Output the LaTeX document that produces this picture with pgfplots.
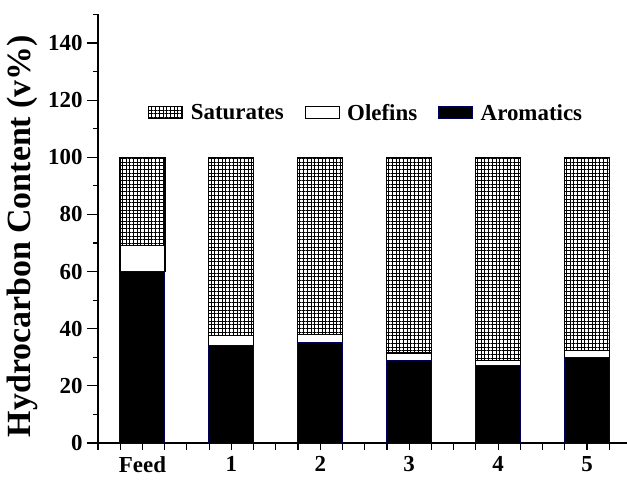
\documentclass[border=0pt]{standalone}
\usepackage{fontspec}
\setmainfont{Liberation Serif}
\usepackage{pgfplots}
\pgfplotsset{compat=1.18}
\usetikzlibrary{patterns.meta}

% Hydrocarbon group composition (vol%) of the feed and products 1-5
\pgfplotstableread{
x  arom  olef  sat
0  60    9     31
1  34    3.5   62.5
2  35    3     62
3  29    2.5   68.5
4  27    2     71
5  30    2.5   67.5
}\comptable

\pgfplotsset{
  frame/.style={
    at={(0,0)}, anchor=south west,
    scale only axis, width=529bp, height=428.6bp,
    xmin=-0.5, xmax=5.45, ymin=0, ymax=150,
  },
}

\begin{document}
\begin{tikzpicture}
% main axis: stacked bars, y ticks and labels
\begin{axis}[
  frame,
  axis lines=left,
  axis line style={-, line width=1.2pt},
  ybar stacked, bar width=45bp,
  xtick={0,1,2,3,4,5},
  xticklabels={Feed,1,2,3,4,5},
  xtick style={draw=none},
  ytick={0,20,...,140},
  minor ytick={10,30,...,150},
  tick align=outside,
  major tick length=11bp, minor tick length=4.5bp,
  every tick/.style={black, line width=1.1pt},
  tick label style={font=\bfseries\fontsize{23}{23}\selectfont},
  xticklabel style={yshift=1bp},
  yticklabel style={xshift=-1bp},
  /pgf/number format/assume math mode=true,
  ylabel={Hydrocarbon Content (v\%)},
  every axis y label/.style={at={(axis description cs:-0.142,0.483)}, rotate=90, anchor=center,
    font=\bfseries\fontsize{34}{34}\selectfont},
  reverse legend,
  legend columns=3,
  legend style={at={(axis description cs:0.507,0.77)}, anchor=center, draw=none, fill=none,
    font=\bfseries\fontsize{23}{23}\selectfont,
    /tikz/every even column/.append style={column sep=19bp}},
  legend image code/.code={%
    \draw[#1, line width=1pt] (0bp,-6bp) rectangle (34bp,6bp);
    \path[draw=none, fill=none] (0bp,0bp) -- (40bp,0bp);},
]
\addplot+[fill=black, draw=blue!35!black, line width=1pt] table[x=x, y=arom] {\comptable};
\addplot+[fill=white, draw=black, line width=1.2pt] table[x=x, y=olef] {\comptable};
\addplot+[draw=black, line width=1.2pt,
  pattern={Hatch[angle=0, distance=3.7bp, line width=0.5pt]}, pattern color=black] table[x=x, y=sat] {\comptable};
\legend{Aromatics, Olefins, Saturates}
\end{axis}
% quarter-step ticks along the x axis
\begin{axis}[
  frame,
  axis x line*=bottom, axis y line=none,
  x axis line style={draw=none},
  xtick={-0.5,-0.25,...,5.25},
  xticklabels={},
  tick align=outside,
  major tick length=7bp,
  every tick/.style={black, line width=1.1pt},
]
\end{axis}
\pgfresetboundingbox
\path (-98bp,-37bp) rectangle (529bp,443bp);
\end{tikzpicture}
\end{document}
